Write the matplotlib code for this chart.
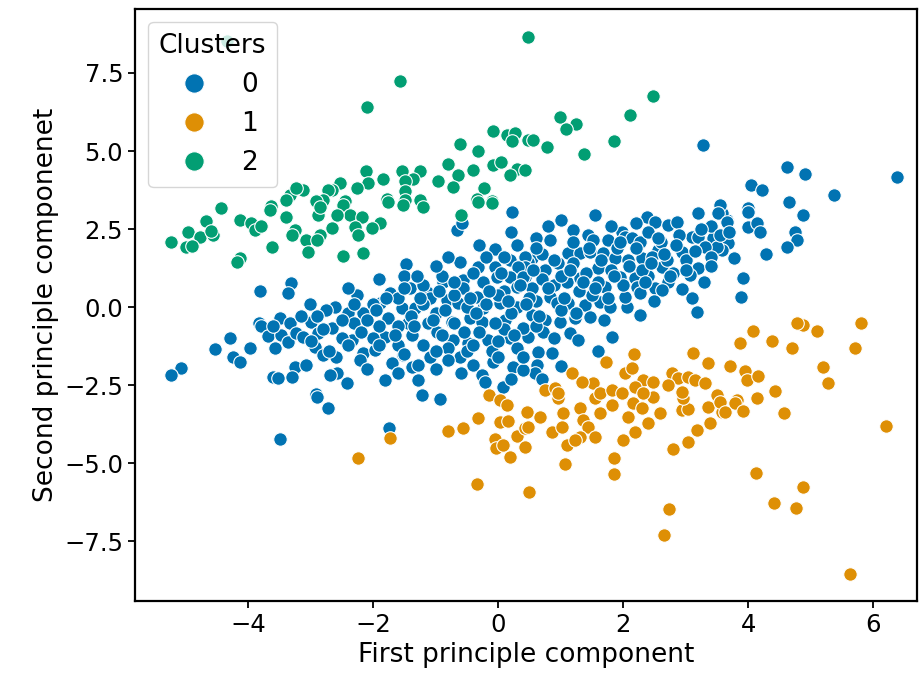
import matplotlib
matplotlib.use("Agg")
import matplotlib.pyplot as plt
from matplotlib.lines import Line2D

# cluster 0 (blue)
blue_x = [3.28, 4.62, 4.91, 4.05, 4.22, 6.38, 5.38, 4.66, 4.00, 4.88, 3.66, 3.58, 4.00, 4.00, 4.14, 4.19,
          4.75, 4.78, 4.62, 3.68, 3.58, 4.29, 3.78, 3.92, 3.89, 3.55,
          1.55, 3.20, 3.52, 2.38, 2.51, 2.72, 2.86, 1.20, 1.44, 1.52, 1.98, 2.03, 2.14, 0.83, 1.76, 3.10,
          3.20, 3.44, 2.27, 1.12, 1.31, 1.47, 1.68, 2.56, 2.94, 1.87, 2.08, 2.30, 2.46, 0.96, 0.54, 2.62,
          3.20, 3.07, 0.75, 1.60, 1.95, 2.19, 1.10, 1.31, 1.71, 2.72, 2.51, 2.62, 2.94, 2.22, 0.48, 0.43,
          0.54, 0.83, 0.94, 1.12, 1.39, 1.63, 1.79, 2.06, 2.03, 2.27, 0.54, 0.75, 0.99, 1.23, 1.47, 2.27,
          3.18, 0.48, 0.72, 1.15, 1.28, 1.82, 0.64, 0.86, 0.62, 0.59, 3.50, 3.31, 0.43, 0.43, 3.66,
          0.22, -0.66, -0.58, -0.05, -1.47, -0.61, -0.32, -0.05, 0.19, 0.32, -0.88, -0.56, -0.24, -0.02,
          0.19, 0.40, -0.56, -0.34, 0.30, -1.41, -1.14, -1.73, -2.26, -1.09, -0.82, -0.64, -0.24, 0.03,
          0.30, -2.61, -2.40, -2.16, -1.89, -1.54, -1.33, -1.76, -1.44, -1.12, -0.74, -0.45, -0.26, 0.11,
          0.40, -2.66, -2.34, -1.81, -1.38, -0.98, -0.72, -0.48, -0.16, 0.19, -2.16, -1.97, -1.52, -1.09,
          -0.61, -2.21, -0.40, -0.08, 0.24, -1.38, -1.28, -2.58, -2.42, -1.81, -1.28, -0.26, -0.21, 0.08,
          -1.22, -0.93, 0.40, -1.74,
          -3.81, -3.31, -3.36, -3.01, -2.75, -3.82, -3.79, -3.49, -3.33, -2.99, -3.68, -3.47, -3.36, -3.57,
          -3.23, -3.12, -2.88, -2.93, -2.80, -4.29, -4.53, -3.97, -4.24, -4.13, -3.25, -3.07, -3.30, -3.60,
          -3.52, -2.91, -5.07, -5.23, -2.69, -3.49, -2.90, -2.72,
          -2.0, -1.6, -1.2, -0.9, -0.4, 0.1, 0.6, 0.9, 1.4, 1.8, 2.4, 2.8, 3.3, 3.0, 2.6, 1.0, 0.7, 0.0,
          -0.5, -1.0, -1.4, -1.9, -2.3, -2.0, -1.6, -1.2, -0.8, -0.3, 0.1, 0.6, 1.0, 1.5, 2.0, 2.5, 1.7,
          0.3, -0.1, -0.6, -1.0, -1.7, -2.6, -2.5, -2.9, -2.4, -1.9, -1.5, -0.2, 0.3, 0.8, 1.2, 1.9, 2.4,
          2.9, 3.4, 3.4, 1.6, 1.0, 0.9, 0.2, -0.7, -1.2, -0.9, 0.5, 1.3, 2.7, 3.1, 2.3, -2.2, -3.0, -0.2,
          0.7, 1.6, 1.2, -0.7, -1.6, -0.5, 0.0, -1.9,
          -2.8, -2.5, -2.3, -2.1, -1.95, -1.8, -1.65, -1.5, -1.35, -1.25, -1.05, -0.95, -0.85, -0.7,
          -0.55, -0.45, -0.35, -0.15, -0.05, 0.05, 0.15, 0.25, 0.35, 0.45, 0.55, 0.65, 0.8, 0.9, 1.05,
          1.15, 1.25, 1.35, 1.45, 1.55, 1.65, 1.75, 1.85, 1.95, 2.1, 2.2, 2.35, 2.45, 2.55, 2.65, 2.75,
          2.85, 3.0, 3.15, 3.25, 3.4, 3.55, 3.7,
          -1.5, -1.0, -0.4, 0.0, 0.4, -0.8, -2.4, -2.7, -3.15, -3.6, -2.1, -1.6, 0.2, 0.7,
          -1.0, -0.3, 0.2, 0.6, 1.0, 1.8, 2.2, -1.3, -0.8, 0.1, 0.6]
blue_y = [5.19, 4.49, 4.26, 3.91, 3.75, 4.17, 3.59, 3.37, 3.17, 2.95, 2.79, 3.01, 3.04, 2.56, 2.69, 2.40,
          2.40, 2.15, 1.92, 2.05, 1.83, 1.70, 1.57, 0.93, 0.32, 3.27,
          2.95, 3.01, 3.01, 2.88, 2.72, 2.63, 2.72, 2.47, 2.31, 2.15, 2.40, 2.24, 2.21, 2.15, 2.15, 2.24,
          2.24, 2.21, 2.08, 1.73, 1.73, 1.76, 1.73, 1.83, 1.76, 1.57, 1.51, 1.57, 1.60, 1.41, 1.57, 1.28,
          1.25, 1.03, 1.19, 1.25, 0.96, 0.93, 0.80, 0.93, 0.64, 0.80, 0.61, 0.54, 0.58, 0.64, 1.44, 0.96,
          0.61, 0.32, 0.13, 0.13, 0.06, 0.16, 0.00, 0.00, 0.32, 0.45, -0.26, -0.42, -0.48, -0.35, -0.32, -0.26,
          -0.16, -0.96, -0.80, -0.83, -1.06, -0.96, -1.44, -1.47, -1.86, -2.12, 1.92, 1.92, 1.60, 1.28, 2.72,
          3.04, 2.47, 2.69, 1.86, 1.38, 1.44, 1.28, 1.28, 1.51, 1.28, 0.80, 0.87, 0.80, 0.96,
          0.96, 0.96, 0.61, 0.32, 0.64, 0.61, 0.48, 0.45, 0.38, 0.29, 0.22, 0.13, -0.03, 0.13,
          0.00, 0.00, -0.19, -0.19, 0.13, -0.03, -0.03, -0.35, -0.51, -0.51, -0.48, -0.35, -0.48, -0.42,
          -0.67, -0.67, -1.06, -0.96, -0.90, -0.80, -1.06, -1.15, -1.06, -0.99, -1.47, -1.38, -1.54, -1.60,
          -1.60, -1.70, -1.86, -1.76, -1.92, -1.92, -1.86, -2.12, -2.44, -2.34, -2.34, -2.18, -2.40, -2.56,
          -2.82, -2.95, -2.02, -3.88,
          0.51, 0.77, 0.45, 0.10, -0.10, -0.51, -0.61, -0.35, -0.51, -0.48, -0.93, -0.90, -1.12, -1.31,
          -0.83, -0.96, -0.83, -1.28, -1.54, -1.00, -1.35, -1.31, -1.60, -1.76, -1.92, -1.86, -2.24, -2.24,
          -2.28, -2.79, -1.96, -2.18, -2.18, -4.23, -2.88, -3.24,
          0.1, 0.3, 0.7, 1.0, 1.1, 0.5, 0.2, 0.7, 1.1, 1.2, 1.0, 1.1, 0.8, 1.5, 2.1, 1.0, 1.7, 0.4,
          0.0, -0.2, -0.3, -0.6, -0.5, -1.0, -1.2, -1.2, -1.3, -0.8, -0.7, -0.6, -0.1, 0.4, 0.7, 0.2, -0.4,
          -1.3, -1.4, -2.1, -2.0, -1.8, -1.6, -1.0, -0.3, 0.6, 0.9, 1.0, 1.6, 2.0, 2.6, 2.1, 1.9, 2.4,
          2.3, 1.6, 2.6, -1.4, -1.9, -1.0, -0.2, 0.4, 0.1, -0.9, 0.3, 0.5, 1.5, 0.3, 1.2, -0.8, -1.1, 0.1,
          0.9, 0.8, 1.4, -0.5, -0.6, -1.4, -1.1, -1.2,
          -0.7, -0.4, 0.1, -0.4, -0.1, 0.3, -0.9, 0.6, -0.6, 0.3, -0.4, 0.5, -0.1, 0.8,
          -0.8, 0.3, -0.2, 0.5, -0.5, 1.1, 0.2, -0.9, 0.7, 0.1, 1.2, -0.3, 0.6, 1.5, 0.3,
          1.2, -0.2, 0.8, 1.9, 0.6, 1.5, 0.3, 1.0, 2.1, 1.3, 1.9, 0.8, 1.4, 2.2, 1.7, 1.0,
          2.0, 1.2, 1.8, 2.5, 1.3, 2.3, 2.4,
          -1.5, -1.4, -1.2, -1.6, -1.6, -1.7, -1.2, -1.4, -0.3, -0.6, -2.0, -2.1, -2.3, -2.3,
          1.3, 2.0, 2.4, 2.2, 2.8, 2.6, 2.7, 1.0, 1.6, 1.6, 1.9]

# cluster 1 (orange)
orange_x = [-2.24, -1.73, -0.80, -0.56, -0.32, -0.14, 0.03, 0.14, 0.46, 0.03, 0.16, 0.30, 0.43, -0.05,
            -0.03, 0.08, 0.19, 0.43, -0.34, 0.50, 1.07, 1.86, 1.86, 2.80, 3.04, 2.74, 2.66,
            0.67, 0.48, 0.86, 0.96, 1.04, 1.02, 1.10, 1.31, 1.36, 1.44, 1.31, 1.23, 1.55, 1.63, 1.55, 1.82,
            2.00, 2.08, 2.16, 2.19, 2.30, 2.40, 2.48, 2.59, 2.94, 3.04, 2.96, 3.18, 3.36, 3.39, 3.58,
            2.18, 3.12, 1.73, 1.18, 3.36, 2.03, 2.14, 2.32, 2.48, 2.78, 2.88, 3.04, 3.15, 3.31, 0.75, 0.91,
            0.96, 1.52, 1.63, 1.82, 1.98, 2.19, 2.32, 2.72, 2.94, 3.50, 1.34,
            5.81, 4.88, 4.78, 5.10, 4.08, 3.87, 4.38, 4.70, 5.71, 3.71, 3.95, 3.98, 4.16, 5.20, 5.28, 4.43,
            3.82, 4.14, 3.55, 3.79, 3.92, 3.63, 4.58, 6.21, 4.13, 4.88, 4.42, 4.77, 5.63]
orange_y = [-4.84, -4.20, -3.97, -3.88, -3.56, -2.82, -2.98, -3.14, -3.37, -3.69, -3.65, -4.13, -3.88, -4.23,
            -4.52, -4.42, -4.81, -4.49, -5.67, -5.93, -5.03, -4.84, -5.35, -4.55, -4.33, -6.47, -7.31,
            -3.53, -3.85, -4.01, -2.92, -3.40, -3.85, -4.42, -3.24, -3.62, -3.85, -4.17, -4.26, -4.17, -3.40,
            -2.92, -3.14, -4.26, -3.53, -3.08, -4.01, -3.24, -3.72, -2.88, -3.40, -3.30, -3.28, -2.92, -3.94,
            -3.21, -3.72, -3.37,
            -1.51, -1.47, -1.76, -2.12, -1.79, -2.12, -1.96, -2.34, -2.40, -2.12, -2.28, -2.24, -2.34, -2.44,
            -2.66, -2.60, -2.76, -2.44, -2.76, -2.66, -2.76, -2.56, -2.76, -2.50, -2.72, -2.82, -2.40,
            -0.51, -0.58, -0.51, -0.77, -0.77, -1.15, -1.09, -1.31, -1.31, -1.89, -2.05, -2.34, -2.21, -1.92,
            -2.44, -2.69, -2.98, -2.92, -3.04, -3.08, -3.33, -3.37, -3.40, -3.81, -5.32, -5.77, -6.28, -6.44,
            -8.56]

# cluster 2 (green)
green_x = [0.47, -1.57, -2.10, -4.34, -0.08, 0.14, 0.27, 0.22, 0.48, -0.61, -0.32, -0.80, -0.08, 0.05,
           0.30, 0.19, -0.40, -2.11, -2.08, -1.84, -1.54, -1.25, -1.36, -1.49, -1.49, -0.96, -0.64, -0.72,
           -0.22, -0.34, -0.10, -2.53, -2.66, -2.45, -1.78, -1.49, -1.25, -2.26,
           2.48, 2.11, 0.99, 1.25, 1.09, 0.56, 0.78, 1.38, 1.86, 0.43,
           -4.43, -3.63, -3.33, -3.12, -3.23, -2.72, -2.80, -2.91,
           -4.67, -4.13, -3.95, -4.96, -4.77, -4.56, -4.60, -5.23, -4.99, -4.90, -3.89, -3.80, -3.65, -3.39,
           -3.39, -3.25, -3.30, -3.07, -3.04, -3.62, -2.88, -2.85, -2.90, -2.85, -4.13, -4.18,
           -2.48, -2.37, -2.58, -2.18, -2.29, -1.89, -2.02, -2.24, -2.66, -2.48, -2.16,
           -1.76, -1.52, -1.20, -0.32, -0.10, -0.59]
green_y = [8.65, 7.24, 6.41, 8.53, 5.64, 5.51, 5.58, 5.32, 5.35, 5.22, 5.00, 4.58, 4.55, 4.65,
           4.42, 4.23, 4.39, 4.36, 3.97, 4.10, 4.36, 4.36, 4.10, 4.04, 3.72, 4.04, 4.23, 3.85,
           3.81, 3.46, 3.40, 3.97, 3.75, 3.40, 3.46, 3.43, 3.43, 3.81,
           6.76, 6.15, 6.09, 5.87, 5.71, 5.35, 5.13, 4.90, 5.32, 4.39,
           3.17, 3.24, 3.59, 3.75, 3.80, 3.75, 3.43, 3.40,
           2.76, 2.79, 2.70, 2.40, 2.24, 2.31, 2.45, 2.08, 1.92, 1.95, 2.47, 2.60, 3.11, 2.88,
           3.43, 2.47, 2.30, 2.15, 1.76, 1.92, 2.95, 2.31, 2.15, 3.20, 1.57, 1.44,
           3.27, 2.95, 2.95, 2.88, 2.56, 2.69, 2.53, 2.31, 2.53, 1.63, 1.73,
           3.37, 3.27, 3.20, 3.37, 3.33, 2.95]

cluster_labels = ["0", "1", "2"]
colors = ["#0173b2", "#de8f05", "#029e73"]

plt.rcParams["font.family"] = "DejaVu Sans"

fig = plt.figure(figsize=(9.23, 6.83), dpi=100)
ax = fig.add_axes([0.1463, 0.120, 0.8472, 0.8668])

series = [(blue_x, blue_y), (orange_x, orange_y), (green_x, green_y)]
for (xs, ys), c in zip(series, colors):
    ax.scatter(xs, ys, s=95, color=c, edgecolors="white", linewidths=0.8)

ax.set_xlim(-5.81, 6.70)
ax.set_ylim(-9.42, 9.55)
ax.set_xticks([-4, -2, 0, 2, 4, 6])
ax.set_yticks([-7.5, -5.0, -2.5, 0.0, 2.5, 5.0, 7.5])
ax.tick_params(labelsize=17.5, length=5, width=1.3)
for sp in ax.spines.values():
    sp.set_linewidth(1.6)

ax.set_xlabel("First principle component", fontsize=19)
ax.set_ylabel("Second principle componenet", fontsize=19)

handles = [Line2D([], [], marker="o", linestyle="", markersize=14, color=c,
                  markeredgecolor="white", markeredgewidth=0.8) for c in colors]
ax.legend(handles, cluster_labels, title="Clusters", loc="upper left",
          fontsize=19, title_fontsize=19)

fig.savefig("out.png", dpi=100)
